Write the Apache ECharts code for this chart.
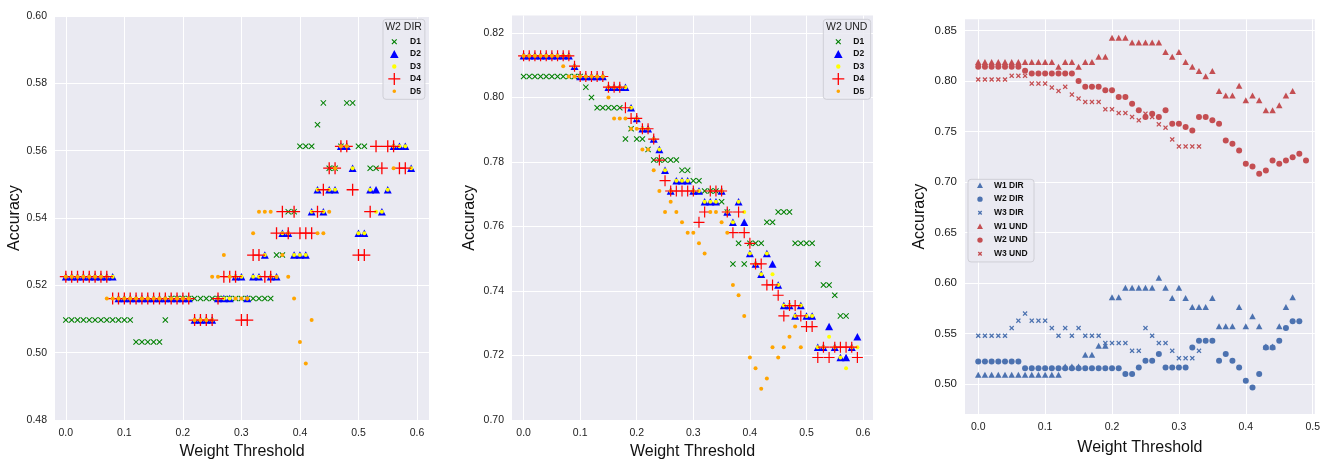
<!DOCTYPE html>
<html>
<head>
<meta charset="utf-8">
<title>Accuracy vs weight threshold</title>
<script src="https://cdn.jsdelivr.net/npm/echarts@6/dist/echarts.min.js"></script>
<style>
  html, body { margin: 0; padding: 0; background: #fff; }
  #main { width: 1323px; height: 465px; }
</style>
</head>
<body>
<div id="main"></div>
<script>
// weight thresholds (x values), step 0.01
var thresholds = [
  0.00, 0.01, 0.02, 0.03, 0.04, 0.05, 0.06, 0.07, 0.08, 0.09,
  0.10, 0.11, 0.12, 0.13, 0.14, 0.15, 0.16, 0.17, 0.18, 0.19,
  0.20, 0.21, 0.22, 0.23, 0.24, 0.25, 0.26, 0.27, 0.28, 0.29,
  0.30, 0.31, 0.32, 0.33, 0.34, 0.35, 0.36, 0.37, 0.38, 0.39,
  0.40, 0.41, 0.42, 0.43, 0.44, 0.45, 0.46, 0.47, 0.48, 0.49,
  0.50, 0.51, 0.52, 0.53, 0.54, 0.55, 0.56, 0.57, 0.58, 0.59
];

// ---- panel 1 : W2 DIR ----
var dirD1 = [
  0.5097, 0.5097, 0.5097, 0.5097, 0.5097, 0.5097, 0.5097, 0.5097, 0.5097, 0.5097,
  0.5097, 0.5097, 0.5032, 0.5032, 0.5032, 0.5032, 0.5032, 0.5097, 0.5161, 0.5161,
  0.5161, 0.5161, 0.5161, 0.5161, 0.5161, 0.5161, 0.5161, 0.5161, 0.5161, 0.5161,
  0.5161, 0.5161, 0.5161, 0.5161, 0.5161, 0.5161, 0.5290, 0.5290, 0.5419, 0.5419,
  0.5613, 0.5613, 0.5613, 0.5677, 0.5742, 0.5548, 0.5548, 0.5613, 0.5742, 0.5742,
  0.5613, 0.5613, 0.5548, 0.5548, null, null, null, null, null, null
];
var dirD2 = [
  0.5226, 0.5226, 0.5226, 0.5226, 0.5226, 0.5226, 0.5226, 0.5226, 0.5226, 0.5161,
  0.5161, 0.5161, 0.5161, 0.5161, 0.5161, 0.5161, 0.5161, 0.5161, 0.5161, 0.5161,
  0.5161, 0.5161, 0.5097, 0.5097, 0.5097, 0.5097, 0.5161, 0.5161, 0.5161, 0.5226,
  0.5226, 0.5161, 0.5226, 0.5226, 0.5290, 0.5226, 0.5226, 0.5355, 0.5355, 0.5290,
  0.5290, 0.5290, 0.5419, 0.5484, 0.5419, 0.5484, 0.5484, 0.5613, 0.5613, 0.5548,
  0.5355, 0.5355, 0.5484, 0.5484, 0.5419, 0.5484, 0.5613, 0.5613, 0.5613, 0.5548
];
var dirD3 = [
  0.5226, 0.5226, 0.5226, 0.5226, 0.5226, 0.5226, 0.5226, 0.5226, 0.5226, 0.5161,
  0.5161, 0.5161, 0.5161, 0.5161, 0.5161, 0.5161, 0.5161, 0.5161, 0.5161, 0.5161,
  0.5161, 0.5161, 0.5097, 0.5097, 0.5097, 0.5097, 0.5161, 0.5161, 0.5161, 0.5226,
  0.5226, 0.5161, 0.5226, 0.5226, 0.5290, 0.5226, 0.5226, 0.5355, 0.5355, 0.5290,
  0.5290, 0.5290, 0.5419, 0.5484, 0.5419, 0.5484, 0.5484, 0.5613, 0.5613, 0.5548,
  0.5355, 0.5355, 0.5484, 0.5419, 0.5419, 0.5484, 0.5613, 0.5613, 0.5613, 0.5548
];
var dirD4 = [
  0.5226, 0.5226, 0.5226, 0.5226, 0.5226, 0.5226, 0.5226, 0.5226, 0.5161, 0.5161,
  0.5161, 0.5161, 0.5161, 0.5161, 0.5161, 0.5161, 0.5161, 0.5161, 0.5161, 0.5161,
  0.5161, 0.5161, 0.5097, 0.5097, 0.5097, 0.5097, 0.5161, 0.5226, 0.5226, 0.5226,
  0.5097, 0.5097, 0.5290, 0.5290, 0.5226, 0.5226, 0.5355, 0.5419, 0.5355, 0.5419,
  0.5355, 0.5355, 0.5355, 0.5419, 0.5484, 0.5548, 0.5548, 0.5613, 0.5613, 0.5484,
  0.5290, 0.5290, 0.5419, 0.5613, 0.5548, 0.5613, 0.5613, 0.5548, 0.5548, null
];
var dirD5 = [
  0.5226, 0.5226, 0.5226, 0.5226, 0.5226, 0.5226, 0.5226, 0.5161, 0.5161, 0.5161,
  0.5161, 0.5161, 0.5161, 0.5161, 0.5161, 0.5161, 0.5161, 0.5161, 0.5161, 0.5161,
  0.5161, 0.5161, 0.5097, 0.5097, 0.5097, 0.5226, 0.5226, 0.5290, 0.5226, 0.5161,
  0.5161, 0.5161, 0.5355, 0.5419, 0.5419, 0.5419, 0.5226, 0.5290, 0.5226, 0.5161,
  0.5032, 0.4968, 0.5097, 0.5355, 0.5355, 0.5419, 0.5548, 0.5613, 0.5613, null,
  null, null, null, null, null, null, 0.5548, null, null, null
];

// ---- panel 2 : W2 UND ----
var undD1 = [
  0.8065, 0.8065, 0.8065, 0.8065, 0.8065, 0.8065, 0.8065, 0.8065, 0.8065, 0.8065,
  0.8065, 0.8032, 0.8000, 0.7968, 0.7968, 0.7968, 0.7968, 0.7968, 0.7871, 0.7903,
  0.7871, 0.7871, 0.7839, 0.7806, 0.7806, 0.7806, 0.7806, 0.7806, 0.7774, 0.7774,
  0.7742, 0.7742, 0.7710, 0.7710, 0.7710, 0.7677, 0.7645, 0.7484, 0.7548, 0.7484,
  0.7548, 0.7548, 0.7548, 0.7613, 0.7613, 0.7645, 0.7645, 0.7645, 0.7548, 0.7548,
  0.7548, 0.7548, 0.7484, 0.7419, 0.7419, 0.7387, 0.7323, 0.7323, null, null
];
var undD2 = [
  0.8129, 0.8129, 0.8129, 0.8129, 0.8129, 0.8129, 0.8129, 0.8129, 0.8129, 0.8097,
  0.8065, 0.8065, 0.8065, 0.8065, 0.8065, 0.8032, 0.8032, 0.8032, 0.8032, 0.7968,
  0.7935, 0.7903, 0.7903, 0.7871, 0.7839, 0.7774, 0.7710, 0.7742, 0.7742, 0.7742,
  0.7710, 0.7710, 0.7677, 0.7677, 0.7677, 0.7710, 0.7645, 0.7613, 0.7677, 0.7613,
  0.7516, 0.7484, 0.7452, 0.7516, 0.7484, 0.7419, 0.7355, 0.7355, 0.7323, 0.7355,
  0.7323, 0.7323, 0.7226, 0.7226, 0.7290, 0.7226, 0.7194, 0.7194, 0.7226, 0.7258
];
var undD3 = [
  0.8129, 0.8129, 0.8129, 0.8129, 0.8129, 0.8129, 0.8129, 0.8129, 0.8129, 0.8097,
  0.8065, 0.8065, 0.8065, 0.8065, 0.8065, 0.8032, 0.8032, 0.8032, 0.8032, 0.7968,
  0.7935, 0.7903, 0.7903, 0.7871, 0.7839, 0.7774, 0.7710, 0.7742, 0.7742, 0.7742,
  0.7710, 0.7710, 0.7677, 0.7677, 0.7677, 0.7710, 0.7645, 0.7613, 0.7677, 0.7645,
  0.7516, 0.7484, 0.7452, 0.7516, 0.7452, 0.7419, 0.7355, 0.7355, 0.7323, 0.7355,
  0.7323, 0.7323, 0.7226, 0.7226, 0.7258, 0.7226, 0.7194, 0.7161, 0.7226, 0.7226
];
var undD4 = [
  0.8129, 0.8129, 0.8129, 0.8129, 0.8129, 0.8129, 0.8129, 0.8129, 0.8129, 0.8097,
  0.8065, 0.8065, 0.8065, 0.8065, 0.8065, 0.8032, 0.8032, 0.8032, 0.7968, 0.7935,
  0.7935, 0.7903, 0.7903, 0.7871, 0.7806, 0.7742, 0.7710, 0.7710, 0.7710, 0.7710,
  0.7710, 0.7613, 0.7645, 0.7710, 0.7710, 0.7710, 0.7645, 0.7581, 0.7645, 0.7581,
  0.7548, 0.7484, 0.7484, 0.7419, 0.7419, 0.7387, 0.7323, 0.7355, 0.7355, 0.7323,
  0.7290, 0.7290, 0.7194, 0.7226, 0.7194, 0.7226, 0.7226, 0.7226, 0.7226, 0.7194
];
var undD5 = [
  0.8129, 0.8129, 0.8129, 0.8129, 0.8129, 0.8129, 0.8129, 0.8097, 0.8065, 0.8065,
  0.8065, 0.8065, 0.8065, 0.8065, 0.8065, 0.8000, 0.7935, 0.7935, 0.7935, 0.7903,
  0.7903, 0.7839, 0.7839, 0.7774, 0.7710, 0.7645, 0.7677, 0.7645, 0.7613, 0.7581,
  0.7581, 0.7548, 0.7516, 0.7645, 0.7645, 0.7613, 0.7581, 0.7419, 0.7387, 0.7323,
  0.7194, 0.7161, 0.7097, 0.7129, 0.7226, 0.7194, 0.7226, 0.7258, 0.7290, 0.7226,
  null, null, null, null, null, null, null, null, null, null
];

// ---- panel 3 : W1/W2/W3, DIR and UND ----
var w1Dir = [
  0.5093, 0.5093, 0.5093, 0.5093, 0.5093, 0.5093, 0.5093, 0.5093, 0.5093, 0.5093,
  0.5093, 0.5093, 0.5093, 0.5175, 0.5175, 0.5175, 0.5291, 0.5291, 0.5381, 0.5381,
  0.5861, 0.5861, 0.5954, 0.5954, 0.5954, 0.5954, 0.5954, 0.6053, 0.5954, 0.5854,
  0.5954, 0.5854, 0.5765, 0.5765, 0.5765, 0.5854, 0.5573, 0.5573, 0.5573, 0.5765,
  0.5573, 0.5672, 0.5573, 0.5374, 0.5374, 0.5573, 0.5765, 0.5861, null, null
];
var w2Dir = [
  0.5225, 0.5225, 0.5225, 0.5225, 0.5225, 0.5225, 0.5225, 0.5159, 0.5159, 0.5159,
  0.5159, 0.5159, 0.5159, 0.5159, 0.5159, 0.5159, 0.5159, 0.5159, 0.5159, 0.5159,
  0.5159, 0.5159, 0.5100, 0.5100, 0.5166, 0.5232, 0.5232, 0.5298, 0.5166, 0.5166,
  0.5166, 0.5166, 0.5364, 0.5430, 0.5430, 0.5430, 0.5232, 0.5298, 0.5232, 0.5166,
  0.5033, 0.4967, 0.5100, 0.5364, 0.5364, 0.5430, 0.5556, 0.5623, 0.5623, null
];
var w3Dir = [
  0.5480, 0.5480, 0.5480, 0.5480, 0.5480, 0.5556, 0.5629, 0.5699, 0.5629, 0.5629,
  0.5629, 0.5556, 0.5480, 0.5556, 0.5480, 0.5556, 0.5480, 0.5480, 0.5480, 0.5407,
  0.5407, 0.5407, 0.5407, 0.5331, 0.5331, 0.5556, 0.5480, 0.5407, 0.5407, 0.5331,
  0.5258, 0.5258, 0.5258, 0.5331, null, null, null, null, null, null,
  null, null, null, null, null, null, null, null, null, null
];
var w1Und = [
  0.8190, 0.8190, 0.8190, 0.8190, 0.8190, 0.8190, 0.8190, 0.8190, 0.8190, 0.8190,
  0.8190, 0.8190, 0.8142, 0.8190, 0.8190, 0.8142, 0.8190, 0.8190, 0.8242, 0.8242,
  0.8430, 0.8430, 0.8430, 0.8384, 0.8384, 0.8384, 0.8384, 0.8384, 0.8288, 0.8242,
  0.8288, 0.8190, 0.8142, 0.8100, 0.8050, 0.8100, 0.7904, 0.7858, 0.7858, 0.7954,
  0.7811, 0.7858, 0.7811, 0.7712, 0.7712, 0.7762, 0.7858, 0.7904, null, null
];
var w2Und = [
  0.8142, 0.8142, 0.8142, 0.8142, 0.8142, 0.8142, 0.8142, 0.8103, 0.8076, 0.8076,
  0.8076, 0.8076, 0.8076, 0.8076, 0.8076, 0.8003, 0.7944, 0.7944, 0.7944, 0.7910,
  0.7910, 0.7844, 0.7844, 0.7778, 0.7712, 0.7646, 0.7679, 0.7646, 0.7712, 0.7580,
  0.7580, 0.7546, 0.7513, 0.7646, 0.7646, 0.7613, 0.7580, 0.7414, 0.7381, 0.7315,
  0.7182, 0.7156, 0.7083, 0.7116, 0.7215, 0.7182, 0.7215, 0.7248, 0.7281, 0.7215
];
var w3Und = [
  0.8017, 0.8017, 0.8017, 0.8017, 0.8017, 0.8053, 0.8053, 0.8053, 0.7977, 0.7977,
  0.7977, 0.7937, 0.7904, 0.7944, 0.7868, 0.7828, 0.7795, 0.7795, 0.7795, 0.7722,
  0.7722, 0.7685, 0.7685, 0.7646, 0.7613, 0.7679, 0.7646, 0.7573, 0.7540, 0.7424,
  0.7354, 0.7354, 0.7354, 0.7354, null, null, null, null, null, null,
  null, null, null, null, null, null, null, null, null, null
];

// tick labels
var xTicks12 = [0, 0.1, 0.2, 0.3, 0.4, 0.5, 0.6];
var xTicks3 = [0, 0.1, 0.2, 0.3, 0.4, 0.5];
var yTicks1 = [0.48, 0.50, 0.52, 0.54, 0.56, 0.58, 0.60];
var yTicks2 = [0.70, 0.72, 0.74, 0.76, 0.78, 0.80, 0.82];
var yTicks3 = [0.50, 0.55, 0.60, 0.65, 0.70, 0.75, 0.80, 0.85];

var FONT = '"Liberation Sans", Arial, sans-serif';

// marker shapes
var X_MARK = 'path://M0,1.2L1.2,0L5,3.8L8.8,0L10,1.2L6.2,5L10,8.8L8.8,10L5,6.2L1.2,10L0,8.8L3.8,5Z';
var X_MARK_BOLD = 'path://M0,1.8L1.8,0L5,3.2L8.2,0L10,1.8L6.8,5L10,8.2L8.2,10L5,6.8L1.8,10L0,8.2L3.2,5Z';
var PLUS = 'path://M5.35,0L6.65,0L6.65,5.35L12,5.35L12,6.65L6.65,6.65L6.65,12L5.35,12L5.35,6.65L0,6.65L0,5.35L5.35,5.35Z';

// legend icons (padded into a fixed box so their sizes differ)
var BOX12 = 'M0,0L0.01,0.01M12,12L12.01,12.01';
var ICON_X = 'path://' + BOX12 + 'M3.2,4L4,3.2L6,5.2L8,3.2L8.8,4L6.8,6L8.8,8L8,8.8L6,6.8L4,8.8L3.2,8L5.2,6Z';
var ICON_TRI = 'path://' + BOX12 + 'M6,1.8L10.3,9.8L1.7,9.8Z';
var ICON_DOT3 = 'path://' + BOX12 + 'M3.8,6A2.2,2.2 0 1 1 8.2,6A2.2,2.2 0 1 1 3.8,6Z';
var ICON_DOT5 = 'path://' + BOX12 + 'M4.2,6A1.8,1.8 0 1 1 7.8,6A1.8,1.8 0 1 1 4.2,6Z';
var BOX8 = 'M0,0L0.01,0.01M8,8L8.01,8.01';
var ICON3_TRI = 'path://' + BOX8 + 'M4,1L7,6.6L1,6.6Z';
var ICON3_DOT = 'path://' + BOX8 + 'M1.3,4A2.7,2.7 0 1 1 6.7,4A2.7,2.7 0 1 1 1.3,4Z';
var ICON3_X = 'path://' + BOX8 + 'M1.8,2.8L2.8,1.8L4,3L5.2,1.8L6.2,2.8L5,4L6.2,5.2L5.2,6.2L4,5L2.8,6.2L1.8,5.2L3,4Z';

function pts(ys) {
  var out = [];
  for (var i = 0; i < ys.length; i++) {
    if (ys[i] !== null) out.push([thresholds[i], ys[i]]);
  }
  return out;
}

function scatter(name, idx, ys, symbol, size, color) {
  return {
    name: name, type: 'scatter',
    xAxisIndex: idx, yAxisIndex: idx,
    data: pts(ys),
    symbol: symbol, symbolSize: size,
    itemStyle: { color: color, opacity: 1 },
    silent: true
  };
}

function xAxisOf(idx, min, max, ticks, gap) {
  return {
    type: 'value', gridIndex: idx, min: min, max: max,
    name: 'Weight Threshold', nameLocation: 'middle', nameGap: gap,
    nameTextStyle: { fontSize: 16, color: '#111', fontFamily: FONT },
    axisLine: { show: false },
    axisTick: { show: false, customValues: ticks },
    axisLabel: { customValues: ticks, fontSize: 10.5, color: '#222', margin: 8, fontFamily: FONT,
      formatter: function (v) { return v.toFixed(1); } },
    splitLine: { show: true, lineStyle: { color: '#ffffff', width: 1 } }
  };
}

function yAxisOf(idx, min, max, ticks, gap, fs) {
  return {
    type: 'value', gridIndex: idx, min: min, max: max,
    name: 'Accuracy', nameLocation: 'middle', nameGap: gap,
    nameTextStyle: { fontSize: 16, color: '#111', fontFamily: FONT },
    axisLine: { show: false },
    axisTick: { show: false, customValues: ticks },
    axisLabel: { customValues: ticks, fontSize: fs, color: '#222', margin: 8, fontFamily: FONT,
      formatter: function (v) { return v.toFixed(2); } },
    splitLine: { show: true, lineStyle: { color: '#ffffff', width: 1 } }
  };
}

function legendBox(left, top, pad, textPad, items, ih, gap, fs) {
  return {
    orient: 'vertical', left: left, top: top,
    data: items, itemWidth: ih, itemHeight: ih, itemGap: gap,
    padding: pad, selectedMode: false,
    textStyle: { fontSize: fs, fontWeight: 'bold', color: '#111', fontFamily: FONT, padding: [0, 0, 0, textPad] },
    backgroundColor: 'rgba(234,234,242,0.85)',
    borderColor: '#cfcfd6', borderWidth: 1, borderRadius: 3
  };
}

var GREEN = '#008000', BLUE = '#0000ff', YELLOW = '#ffff00', RED = '#ff0000', ORANGE = '#ffa500';
var SB_BLUE = '#4c72b0', SB_RED = '#c44e52';

var legendItems = [
  { name: 'D1', icon: ICON_X }, { name: 'D2', icon: ICON_TRI }, { name: 'D3', icon: ICON_DOT3 },
  { name: 'D4', icon: PLUS }, { name: 'D5', icon: ICON_DOT5 }
];

var option = {
  animation: false,
  textStyle: { fontFamily: FONT },
  grid: [
    { left: 55, top: 16, width: 374, height: 411, show: true, backgroundColor: '#eaeaf2', borderWidth: 0 },
    { left: 512, top: 15.5, width: 361, height: 405.2, show: true, backgroundColor: '#eaeaf2', borderWidth: 0 },
    { left: 965, top: 19.3, width: 352, height: 394.7, show: true, backgroundColor: '#eaeaf2', borderWidth: 0 }
  ],
  xAxis: [
    xAxisOf(0, -0.0185, 0.6205, xTicks12, 21),
    xAxisOf(1, -0.0205, 0.6176, xTicks12, 21),
    xAxisOf(2, -0.0198, 0.5032, xTicks3, 26)
  ],
  yAxis: [
    yAxisOf(0, 0.48, 0.60, yTicks1, 31, 10.5),
    yAxisOf(1, 0.70, 0.8254, yTicks2, 34, 10.5),
    yAxisOf(2, 0.4705, 0.8613, yTicks3, 37, 11.5)
  ],
  legend: [
    legendBox(383, 19.3, [16.4, 4, 2, 5.3], 4.7, legendItems, 12, 0.4, 8.5),
    legendBox(823.3, 19.3, [16.4, 6.5, 2, 9], 4, legendItems, 12, 0.4, 8.5),
    legendBox(968, 179.3, [1.7, 6.5, 3.7, 8], 5, [
      { name: 'W1 DIR', icon: ICON3_TRI }, { name: 'W2 DIR', icon: ICON3_DOT }, { name: 'W3 DIR', icon: ICON3_X },
      { name: 'W1 UND', icon: ICON3_TRI }, { name: 'W2 UND', icon: ICON3_DOT }, { name: 'W3 UND', icon: ICON3_X }
    ], 8, 4.65, 8.5)
  ],
  graphic: [
    { type: 'text', x: 403.5, y: 27.3, z: 100,
      style: { text: 'W2 DIR', align: 'center', verticalAlign: 'middle', fontSize: 10.5, fill: '#222', fontFamily: FONT } },
    { type: 'text', x: 846.7, y: 27.3, z: 100,
      style: { text: 'W2 UND', align: 'center', verticalAlign: 'middle', fontSize: 10.5, fill: '#222', fontFamily: FONT } }
  ],
  series: [
    scatter('D1', 0, dirD1, X_MARK, 6, GREEN),
    scatter('D2', 0, dirD2, 'triangle', [8, 7.5], BLUE),
    scatter('D3', 0, dirD3, 'circle', 4, YELLOW),
    scatter('D4', 0, dirD4, PLUS, 12, RED),
    scatter('D5', 0, dirD5, 'circle', 4, ORANGE),

    scatter('D1', 1, undD1, X_MARK, 6, GREEN),
    scatter('D2', 1, undD2, 'triangle', [8, 7.5], BLUE),
    scatter('D3', 1, undD3, 'circle', 4, YELLOW),
    scatter('D4', 1, undD4, PLUS, 11, RED),
    scatter('D5', 1, undD5, 'circle', 4, ORANGE),

    scatter('W1 DIR', 2, w1Dir, 'triangle', [6.5, 6], SB_BLUE),
    scatter('W2 DIR', 2, w2Dir, 'circle', 6, SB_BLUE),
    scatter('W3 DIR', 2, w3Dir, X_MARK_BOLD, 5, SB_BLUE),
    scatter('W1 UND', 2, w1Und, 'triangle', [6.5, 6], SB_RED),
    scatter('W2 UND', 2, w2Und, 'circle', 6, SB_RED),
    scatter('W3 UND', 2, w3Und, X_MARK_BOLD, 5, SB_RED)
  ]
};

var chart = echarts.init(document.getElementById('main'));
chart.setOption(option);
</script>
</body>
</html>
